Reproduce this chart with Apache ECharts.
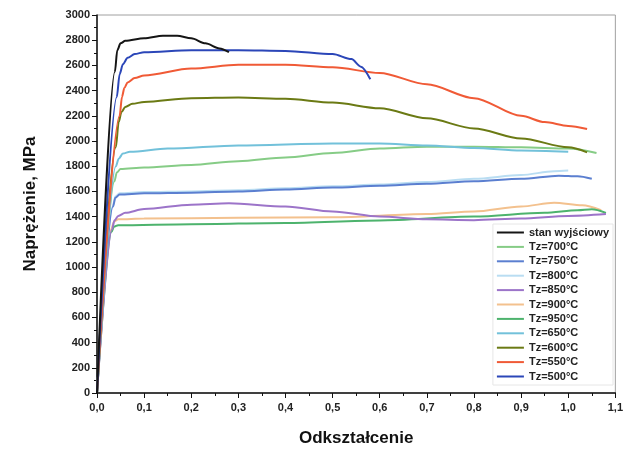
<!DOCTYPE html>
<html>
<head>
<meta charset="utf-8">
<script src="https://cdn.jsdelivr.net/npm/echarts@6/dist/echarts.min.js"></script>
<style>html,body{margin:0;padding:0;background:#fff}#c{width:626px;height:452px}</style>
</head>
<body>
<div id="c"></div>
<script>
const seriesNames = ['stan wyjściowy','Tz=700°C','Tz=750°C','Tz=800°C','Tz=850°C','Tz=900°C','Tz=950°C','Tz=650°C','Tz=600°C','Tz=550°C','Tz=500°C'];
const seriesColors = ['#151515','#86cc86','#5b7fd0','#b9ddf2','#9c74c9','#f3c18e','#4db36d','#72c1da','#6b7a14','#f05a36','#2b46b8'];

const stanWyjsciowy = [[0,0],[0.038,2550],[0.043,2720],[0.05,2775],[0.06,2795],[0.10,2815],[0.14,2835],[0.17,2835],[0.20,2815],[0.23,2775],[0.26,2735],[0.28,2705]];
const tz700 = [[0,0],[0.037,1680],[0.042,1750],[0.05,1778],[0.10,1790],[0.20,1810],[0.30,1840],[0.40,1870],[0.50,1905],[0.60,1940],[0.70,1955],[0.80,1955],[0.90,1950],[1.00,1940],[1.06,1905]];
const tz750 = [[0,0],[0.034,1480],[0.039,1550],[0.048,1575],[0.10,1585],[0.20,1590],[0.30,1600],[0.40,1615],[0.50,1630],[0.60,1645],[0.70,1660],[0.80,1680],[0.90,1700],[0.98,1725],[1.02,1720],[1.05,1700]];
const tz800 = [[0,0],[0.034,1490],[0.039,1560],[0.048,1585],[0.10,1595],[0.20,1600],[0.30,1610],[0.40,1625],[0.50,1640],[0.60,1655],[0.70,1675],[0.80,1700],[0.90,1730],[0.97,1760],[1.00,1765]];
const tz850 = [[0,0],[0.032,1300],[0.037,1370],[0.045,1405],[0.06,1430],[0.10,1460],[0.20,1495],[0.28,1505],[0.40,1480],[0.50,1440],[0.60,1400],[0.70,1378],[0.80,1372],[0.90,1385],[1.00,1405],[1.08,1420]];
const tz900 = [[0,0],[0.031,1310],[0.036,1360],[0.045,1378],[0.10,1385],[0.30,1390],[0.50,1395],[0.70,1420],[0.80,1440],[0.90,1480],[0.97,1510],[1.03,1490],[1.07,1450]];
const tz950 = [[0,0],[0.031,1280],[0.036,1320],[0.045,1332],[0.20,1340],[0.40,1350],[0.60,1370],[0.80,1400],[0.95,1430],[1.02,1450],[1.05,1458],[1.08,1430]];
const tz650 = [[0,0],[0.040,1800],[0.046,1860],[0.055,1900],[0.07,1915],[0.15,1940],[0.30,1965],[0.50,1980],[0.60,1980],[0.70,1965],[0.80,1945],[0.90,1925],[1.00,1915]];
const tz600 = [[0,0],[0.040,1950],[0.046,2150],[0.052,2230],[0.06,2270],[0.075,2295],[0.10,2310],[0.20,2340],[0.30,2345],[0.40,2335],[0.50,2305],[0.60,2260],[0.70,2180],[0.80,2100],[0.90,2020],[1.00,1950],[1.04,1910]];
const tz550 = [[0,0],[0.048,2200],[0.053,2350],[0.058,2420],[0.065,2465],[0.08,2500],[0.10,2520],[0.20,2575],[0.30,2605],[0.40,2605],[0.50,2585],[0.60,2540],[0.70,2450],[0.80,2340],[0.90,2200],[0.95,2150],[1.00,2120],[1.04,2095]];
const tz500 = [[0,0],[0.042,2350],[0.048,2530],[0.055,2610],[0.065,2660],[0.08,2690],[0.10,2705],[0.20,2720],[0.30,2720],[0.40,2715],[0.50,2690],[0.54,2650],[0.56,2590],[0.58,2490]];

const seriesData = [stanWyjsciowy,tz700,tz750,tz800,tz850,tz900,tz950,tz650,tz600,tz550,tz500];

const xTickFormat = v => v.toFixed(1).replace('.', ',');
const yTickFormat = v => String(v);
const fontFam = '"Liberation Sans", Arial, sans-serif';

const chart = echarts.init(document.getElementById('c'), null, {renderer:'canvas'});
const drawOrder = [5,6,4,3,2,1,7,8,9,10,0];
chart.setOption({
  animation:false,
  backgroundColor:'#fff',
  grid:{left:97, right:5, top:15, bottom:59, show:true, borderColor:'#a0a0a0', borderWidth:1},
  legend:{
    data: seriesNames,
    orient:'vertical', right:13, top:224,
    icon:'rect', itemWidth:27, itemHeight:2, itemGap:3.4,
    backgroundColor:'#fff', borderColor:'#e6e6e6', borderWidth:1, padding:[3,4,3,4],
    textStyle:{fontFamily:fontFam, fontWeight:'bold', fontSize:11, color:'#222'}
  },
  xAxis:{
    type:'value', min:0, max:1.1, interval:0.1,
    name:'Odkształcenie', nameLocation:'middle', nameGap:37,
    nameTextStyle:{fontFamily:fontFam, fontWeight:'bold', fontSize:17, color:'#111'},
    axisLine:{show:true, onZero:false, lineStyle:{color:'#111', width:1.5}},
    axisTick:{show:true, inside:false, length:5, lineStyle:{color:'#111'}},
    minorTick:{show:true, splitNumber:2, length:3, lineStyle:{color:'#111'}},
    splitLine:{show:false},
    axisLabel:{formatter:xTickFormat, fontFamily:fontFam, fontWeight:'bold', fontSize:11, color:'#222', margin:9}
  },
  yAxis:{
    type:'value', min:0, max:3000, interval:200,
    name:'Naprężenie, MPa', nameLocation:'middle', nameGap:58,
    nameTextStyle:{fontFamily:fontFam, fontWeight:'bold', fontSize:17, color:'#111'},
    axisLine:{show:true, lineStyle:{color:'#111', width:1.5}},
    axisTick:{show:true, length:5, lineStyle:{color:'#111'}},
    minorTick:{show:true, splitNumber:2, length:3, lineStyle:{color:'#111'}},
    splitLine:{show:false},
    axisLabel:{formatter:yTickFormat, fontFamily:fontFam, fontWeight:'bold', fontSize:11, color:'#222', margin:7}
  },
  series: drawOrder.map(i => ({
    name: seriesNames[i], type:'line', data: seriesData[i],
    showSymbol:false, symbol:'none', smooth:0.3, smoothMonotone:'x',
    lineStyle:{color: seriesColors[i], width:2}, itemStyle:{color: seriesColors[i]},
    z: 2 + drawOrder.indexOf(i)
  }))
});
</script>
</body>
</html>
